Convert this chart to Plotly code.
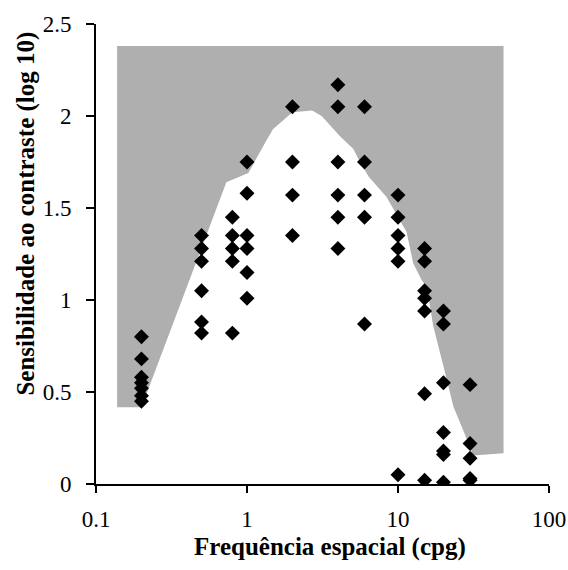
import plotly.graph_objects as go

# Shaded region (upper boundary flat, lower boundary = curve)
region_x = [0.138, 50, 50, 31.5, 27.1, 23.3, 20.0, 17.1, 15.5, 14.3, 12.6, 11.4, 8.4,
            6.4, 5.6, 5.06, 4.13, 3.12, 2.7, 2.0, 1.49, 1.35, 1.02, 0.73, 0.2, 0.138]
region_y = [2.38, 2.38, 0.167, 0.155, 0.29, 0.42, 0.64, 0.86, 1.07, 1.11, 1.20, 1.37, 1.56,
            1.67, 1.75, 1.82, 1.89, 2.00, 2.03, 2.02, 1.93, 1.87, 1.69, 1.64, 0.417, 0.417]

# Data points: spatial frequency (cpg) and log10 contrast sensitivity
freqs = [0.2, 0.5, 0.8, 1, 2, 4, 6, 10, 15, 20, 30]
sens = [
    [0.80, 0.68, 0.58, 0.55, 0.52, 0.48, 0.45],
    [1.35, 1.28, 1.21, 1.05, 0.88, 0.82],
    [1.45, 1.35, 1.28, 1.21, 0.82],
    [1.75, 1.58, 1.35, 1.28, 1.15, 1.01],
    [2.05, 1.75, 1.57, 1.35],
    [2.17, 2.05, 1.75, 1.57, 1.45, 1.28],
    [2.05, 1.75, 1.57, 1.45, 0.87],
    [1.57, 1.45, 1.35, 1.28, 1.21, 0.05],
    [1.28, 1.21, 1.05, 1.01, 0.94, 0.49, 0.02],
    [0.94, 0.87, 0.55, 0.28, 0.18, 0.16, 0.01],
    [0.54, 0.22, 0.14, 0.03, 0.02],
]

x_tickvals = [0.1, 1, 10, 100]
x_ticktext = ["0.1", "1", "10", "100"]
y_tickvals = [0, 0.5, 1, 1.5, 2, 2.5]
y_ticktext = ["0", "0.5", "1", "1.5", "2", "2.5"]
x_title = "Frequência espacial (cpg)"
y_title = "Sensibilidade ao contraste (log 10)"

px, py = [], []
for f, vals in zip(freqs, sens):
    for v in vals:
        px.append(f)
        py.append(v)

fig = go.Figure()
fig.add_trace(go.Scatter(x=region_x, y=region_y, mode="lines", fill="toself",
                         fillcolor="#afafaf", line=dict(width=0, color="#afafaf"),
                         hoverinfo="skip", showlegend=False))
fig.add_trace(go.Scatter(x=px, y=py, mode="markers",
                         marker=dict(symbol="diamond", size=11.5, color="black"),
                         showlegend=False))

font_family = "Liberation Serif"
fig.update_layout(
    width=568, height=570,
    margin=dict(l=96, r=19, t=24, b=86),
    paper_bgcolor="white", plot_bgcolor="white",
    font=dict(family=font_family, size=23, color="black"),
    xaxis=dict(type="log", range=[-1, 2], tickvals=x_tickvals, ticktext=x_ticktext,
               automargin=False,
               showgrid=False, zeroline=False, showline=True, linecolor="black",
               linewidth=2, ticks="outside", ticklen=7, tickwidth=2, tickcolor="black",
               tickfont=dict(size=23), ticklabelstandoff=6),
    yaxis=dict(range=[0, 2.5], tickvals=y_tickvals, ticktext=y_ticktext,
               automargin=False,
               showgrid=False, zeroline=False, showline=True, linecolor="black",
               linewidth=2, ticks="outside", ticklen=8, tickwidth=2, tickcolor="black",
               tickfont=dict(size=23), ticklabelstandoff=10),
    annotations=[
        dict(text="<b>" + x_title + "</b>", xref="paper", yref="paper",
             x=0.5166, y=-0.137, xanchor="center", yanchor="middle",
             showarrow=False, font=dict(size=25)),
        dict(text="<b>" + y_title + "</b>", xref="paper", yref="paper",
             x=-0.1545, y=0.588, xanchor="center", yanchor="middle", textangle=-90,
             showarrow=False, font=dict(size=25)),
    ],
)

fig.write_html("out.html")
